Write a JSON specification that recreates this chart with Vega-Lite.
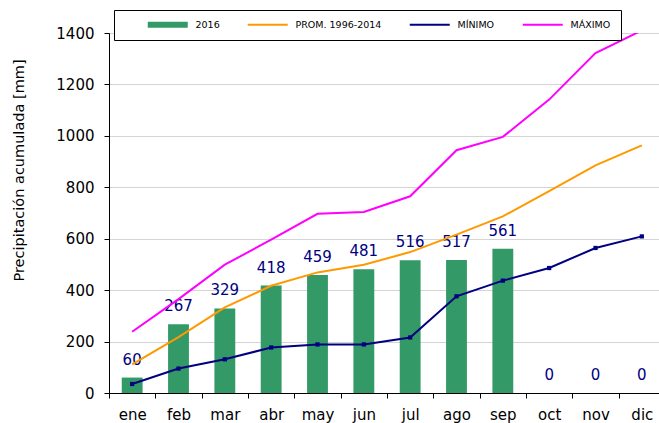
{
  "$schema": "https://vega.github.io/schema/vega-lite/v6.json",
  "autosize": "none",
  "width": 556,
  "height": 360,
  "padding": {"left": 109, "top": 33, "right": 0, "bottom": 30},
  "background": "white",
  "config": {
    "view": {"stroke": null},
    "font": "DejaVu Sans",
    "axis": {"labelFont": "DejaVu Sans", "titleFont": "DejaVu Sans", "labelColor": "black", "titleColor": "black", "domainColor": "black", "tickColor": "black"}
  },
  "data": {
    "values": [
      {"mes": "ene", "serie": "2016", "valor": 60},
      {"mes": "feb", "serie": "2016", "valor": 267},
      {"mes": "mar", "serie": "2016", "valor": 329},
      {"mes": "abr", "serie": "2016", "valor": 418},
      {"mes": "may", "serie": "2016", "valor": 459},
      {"mes": "jun", "serie": "2016", "valor": 481},
      {"mes": "jul", "serie": "2016", "valor": 516},
      {"mes": "ago", "serie": "2016", "valor": 517},
      {"mes": "sep", "serie": "2016", "valor": 561},
      {"mes": "oct", "serie": "2016", "valor": 0},
      {"mes": "nov", "serie": "2016", "valor": 0},
      {"mes": "dic", "serie": "2016", "valor": 0},
      {"mes": "ene", "serie": "PROM. 1996-2014", "valor": 111},
      {"mes": "feb", "serie": "PROM. 1996-2014", "valor": 217},
      {"mes": "mar", "serie": "PROM. 1996-2014", "valor": 333},
      {"mes": "abr", "serie": "PROM. 1996-2014", "valor": 417},
      {"mes": "may", "serie": "PROM. 1996-2014", "valor": 469},
      {"mes": "jun", "serie": "PROM. 1996-2014", "valor": 499},
      {"mes": "jul", "serie": "PROM. 1996-2014", "valor": 548},
      {"mes": "ago", "serie": "PROM. 1996-2014", "valor": 616},
      {"mes": "sep", "serie": "PROM. 1996-2014", "valor": 687},
      {"mes": "oct", "serie": "PROM. 1996-2014", "valor": 785},
      {"mes": "nov", "serie": "PROM. 1996-2014", "valor": 885},
      {"mes": "dic", "serie": "PROM. 1996-2014", "valor": 963},
      {"mes": "ene", "serie": "MÍNIMO", "valor": 35},
      {"mes": "feb", "serie": "MÍNIMO", "valor": 95},
      {"mes": "mar", "serie": "MÍNIMO", "valor": 131},
      {"mes": "abr", "serie": "MÍNIMO", "valor": 177},
      {"mes": "may", "serie": "MÍNIMO", "valor": 189},
      {"mes": "jun", "serie": "MÍNIMO", "valor": 189},
      {"mes": "jul", "serie": "MÍNIMO", "valor": 216},
      {"mes": "ago", "serie": "MÍNIMO", "valor": 376},
      {"mes": "sep", "serie": "MÍNIMO", "valor": 437},
      {"mes": "oct", "serie": "MÍNIMO", "valor": 486},
      {"mes": "nov", "serie": "MÍNIMO", "valor": 564},
      {"mes": "dic", "serie": "MÍNIMO", "valor": 609},
      {"mes": "ene", "serie": "MÁXIMO", "valor": 238},
      {"mes": "feb", "serie": "MÁXIMO", "valor": 365},
      {"mes": "mar", "serie": "MÁXIMO", "valor": 499},
      {"mes": "abr", "serie": "MÁXIMO", "valor": 596},
      {"mes": "may", "serie": "MÁXIMO", "valor": 697},
      {"mes": "jun", "serie": "MÁXIMO", "valor": 704},
      {"mes": "jul", "serie": "MÁXIMO", "valor": 765},
      {"mes": "ago", "serie": "MÁXIMO", "valor": 944},
      {"mes": "sep", "serie": "MÁXIMO", "valor": 996},
      {"mes": "oct", "serie": "MÁXIMO", "valor": 1141},
      {"mes": "nov", "serie": "MÁXIMO", "valor": 1322},
      {"mes": "dic", "serie": "MÁXIMO", "valor": 1410}
    ]
  },
  "encoding": {
    "x": {
      "field": "mes", "type": "nominal",
      "sort": ["ene","feb","mar","abr","may","jun","jul","ago","sep","oct","nov","dic"],
      "scale": {"type": "band", "paddingInner": 0, "paddingOuter": 0},
      "axis": {"title": null, "labelAngle": 0, "labelFontSize": 15, "labelPadding": 9, "tickSize": 5, "tickBand": "extent", "grid": false, "domainWidth": 1}
    },
    "y": {
      "field": "valor", "type": "quantitative",
      "scale": {"domain": [0, 1400], "nice": false},
      "axis": {"title": "Precipitación acumulada [mm]", "format": "d", "values": [0,200,400,600,800,1000,1200,1400], "labelFontSize": 15, "labelPadding": 10, "tickSize": 5, "titleFontSize": 14.5, "titleFontWeight": "normal", "titleX": -90, "titleY": 137, "titleAngle": -90, "titleBaseline": "middle", "titleAlign": "center", "grid": true, "gridColor": "#a8a8a8", "gridDash": [1, 1], "gridWidth": 1}
    }
  },
  "layer": [
    {
      "transform": [{"filter": "datum.serie === '2016'"}],
      "mark": {"type": "bar", "width": {"band": 0.45}},
      "encoding": {
        "color": {
          "field": "serie", "type": "nominal",
          "scale": {"domain": ["2016", "PROM. 1996-2014", "MÍNIMO", "MÁXIMO"], "range": ["#339966", "#FF9900", "#000080", "#FF00FF"]},
          "legend": {
            "title": null, "orient": "none", "direction": "horizontal",
            "legendX": 5, "legendY": -23,
            "fillColor": "white", "strokeColor": "black", "padding": 10,
            "gridAlign": "none",
            "columnPadding": 4, "labelFontSize": 9.5, "labelFont": "DejaVu Sans", "labelColor": "black", "labelOffset": 23,
            "labelExpr": "datum.label === 'MÁXIMO' ? 'MÁXIMO            ' : datum.label",
            "symbolOffset": 39,
            "symbolSize": 1600,
            "encode": {
              "symbols": {
                "update": {
                  "shape": {"signal": "datum.value === '2016' ? 'M-1,-0.15H1V0.15H-1Z' : 'stroke'"},
                  "fill": {"signal": "datum.value === '2016' ? '#339966' : 'transparent'"},
                  "stroke": {"signal": "scale('color', datum.value)"},
                  "strokeWidth": {"signal": "datum.value === '2016' ? 0 : 2"},
                  "size": {"value": 1600},
                  "opacity": {"value": 1}
                }
              }
            }
          }
        }
      }
    },
    {
      "transform": [{"filter": "datum.serie === '2016'"}],
      "mark": {"type": "text", "baseline": "alphabetic", "dy": -13, "fontSize": 15, "color": "#000080", "font": "DejaVu Sans"},
      "encoding": {"text": {"field": "valor", "type": "quantitative"}}
    },
    {
      "transform": [{"filter": "datum.serie !== '2016'"}],
      "mark": {"type": "line", "strokeWidth": 2, "clip": true},
      "encoding": {
        "color": {"field": "serie", "type": "nominal"},
        "detail": {"field": "serie"}
      }
    },
    {
      "transform": [{"filter": "datum.serie === 'MÍNIMO'"}],
      "mark": {"type": "point", "shape": "square", "size": 18, "filled": true, "color": "#000080", "opacity": 1}
    }
  ]
}
